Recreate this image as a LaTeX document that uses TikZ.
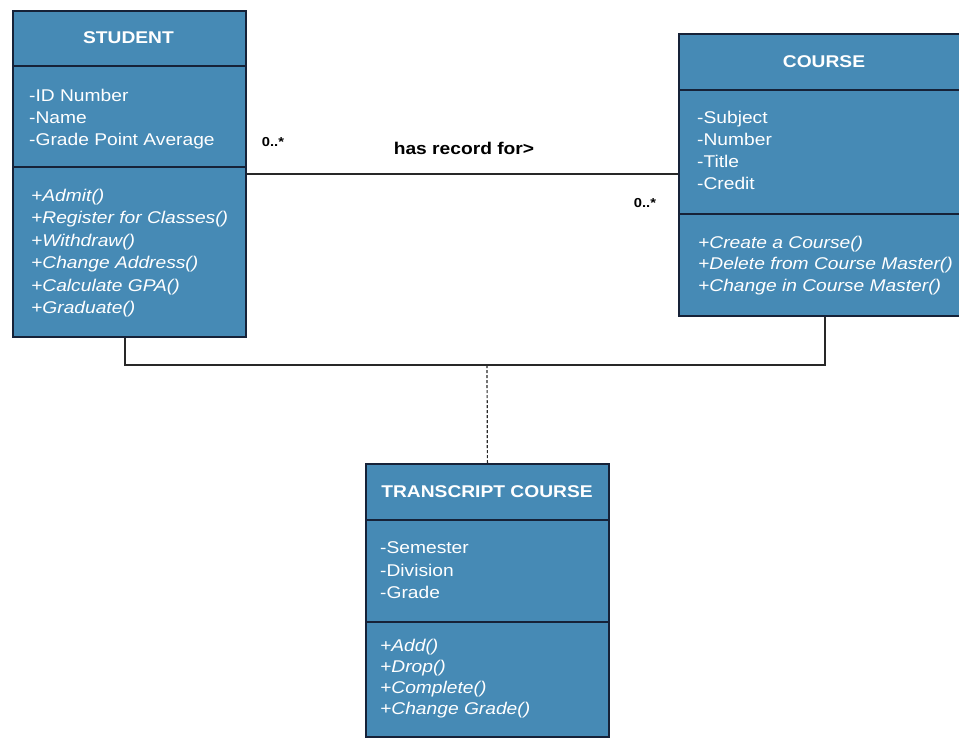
\documentclass[tikz,border=0pt]{standalone}
\usepackage{fontspec}
\setmainfont{Liberation Sans}[FakeStretch=1.13]
\definecolor{umlblue}{RGB}{70,138,181}
\definecolor{umlline}{RGB}{22,34,56}
\definecolor{conn}{RGB}{40,40,40}
\begin{document}
\begin{tikzpicture}[x=1pt,y=-1pt,
  classbox/.style={draw=umlline,line width=1.8pt,fill=umlblue,inner sep=0pt,anchor=north west},
  divider/.style={draw=umlline,line width=1.8pt},
  titletext/.style={text=white,font=\fontsize{17}{22}\selectfont\bfseries,inner sep=0pt},
  attrtext/.style={text=white,font=\fontsize{17}{22}\selectfont,align=left,anchor=north west,inner sep=0pt},
  optext/.style={text=white,font=\fontsize{17}{22.5}\selectfont\itshape,align=left,anchor=north west,inner sep=0pt},
  assoc/.style={draw=conn,line width=1.6pt},
  lbl/.style={text=black,font=\fontsize{17}{20}\selectfont\bfseries,inner sep=0pt},
  mult/.style={text=black,font=\fontsize{13}{15}\selectfont\bfseries,inner sep=0pt}]
\useasboundingbox[fill=white] (0,0) rectangle (959,740);
\begin{scope}
\clip (0,0) rectangle (959,740);
% STUDENT
\node[classbox,minimum width=233pt,minimum height=326pt] (student) at (12,10) {};
\draw[divider] (student.west |- 0,66) -- (student.east |- 0,66);
\draw[divider] (student.west |- 0,167) -- (student.east |- 0,167);
\node[titletext] (stuT) at (128.5,38) {STUDENT};
\node[attrtext] (stuA) at (29,88.5) {-ID Number\\-Name\\-Grade Point Average};
\node[optext] (stuO) at (31,188.5) {+Admit()\\+Register for Classes()\\+Withdraw()\\+Change Address()\\+Calculate GPA()\\+Graduate()};
% COURSE
\node[classbox,minimum width=292pt,minimum height=282pt] (course) at (678,33) {};
\draw[divider] (course.west |- 0,90) -- (course.east |- 0,90);
\draw[divider] (course.west |- 0,214) -- (course.east |- 0,214);
\node[titletext] (couT) at (824,62) {COURSE};
\node[attrtext] (couA) at (697,110.5) {-Subject\\-Number\\-Title\\-Credit};
\node[optext,font=\fontsize{17}{21.5}\selectfont\itshape] (couO) at (698,235.5) {+Create a Course()\\+Delete from Course Master()\\+Change in Course Master()};
% TRANSCRIPT COURSE
\node[classbox,minimum width=243pt,minimum height=273pt] (transcript) at (365,463) {};
\draw[divider] (transcript.west |- 0,520) -- (transcript.east |- 0,520);
\draw[divider] (transcript.west |- 0,622) -- (transcript.east |- 0,622);
\node[titletext] (traT) at (487,492) {TRANSCRIPT COURSE};
\node[attrtext,font=\fontsize{17}{22.5}\selectfont] (traA) at (380,541.5) {-Semester\\-Division\\-Grade};
\node[optext,font=\fontsize{17}{21}\selectfont\itshape] (traO) at (380,638.5) {+Add()\\+Drop()\\+Complete()\\+Change Grade()};
\end{scope}
% association
\draw[assoc] (student.east) -- (student.east -| course.west);
\node[lbl] (assocL) at (464,148) {has record for>};
\node[mult] (m1) at (273,142) {0..*};
\node[mult] (m2) at (645,203) {0..*};
% association class link
\coordinate (j) at (487,365);
\draw[assoc] ([xshift=-4.5pt]student.south) |- (j) -| (course.south);
\draw[draw=conn,line width=1.2pt,dash pattern=on 3pt off 2pt] (j) -- (transcript.north);
\end{tikzpicture}
\end{document}
